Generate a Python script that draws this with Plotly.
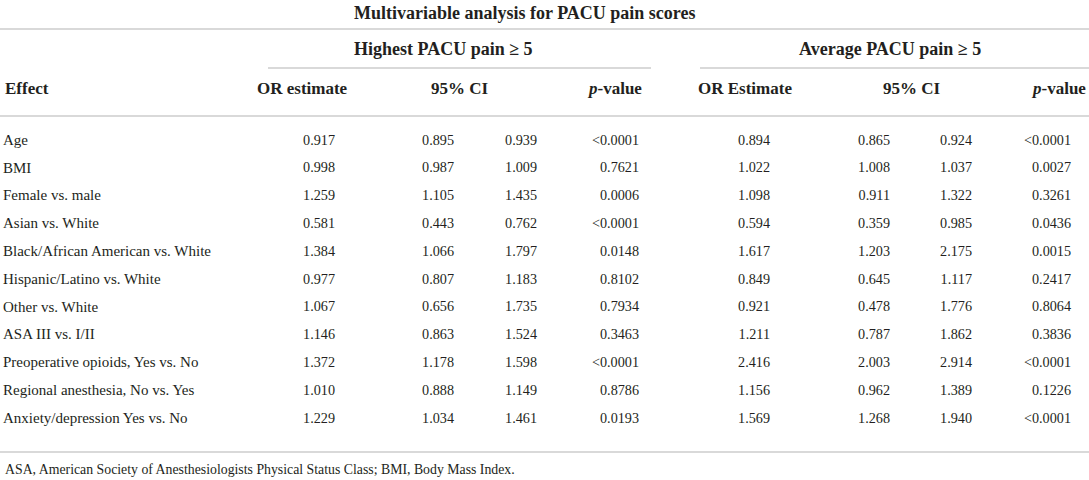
import plotly.graph_objects as go

# table content
effects = [
    "Age", "BMI", "Female vs. male", "Asian vs. White",
    "Black/African American vs. White", "Hispanic/Latino vs. White",
    "Other vs. White", "ASA III vs. I/II", "Preoperative opioids, Yes vs. No",
    "Regional anesthesia, No vs. Yes", "Anxiety/depression Yes vs. No",
]
hi_or = [0.917, 0.998, 1.259, 0.581, 1.384, 0.977, 1.067, 1.146, 1.372, 1.010, 1.229]
hi_lo = [0.895, 0.987, 1.105, 0.443, 1.066, 0.807, 0.656, 0.863, 1.178, 0.888, 1.034]
hi_up = [0.939, 1.009, 1.435, 0.762, 1.797, 1.183, 1.735, 1.524, 1.598, 1.149, 1.461]
hi_p = ["<0.0001", "0.7621", "0.0006", "<0.0001", "0.0148", "0.8102",
        "0.7934", "0.3463", "<0.0001", "0.8786", "0.0193"]
avg_or = [0.894, 1.022, 1.098, 0.594, 1.617, 0.849, 0.921, 1.211, 2.416, 1.156, 1.569]
avg_lo = [0.865, 1.008, 0.911, 0.359, 1.203, 0.645, 0.478, 0.787, 2.003, 0.962, 1.268]
avg_up = [0.924, 1.037, 1.322, 0.985, 2.175, 1.117, 1.776, 1.862, 2.914, 1.389, 1.940]
avg_p = ["<0.0001", "0.0027", "0.3261", "0.0436", "0.0015", "0.2417",
         "0.8064", "0.3836", "<0.0001", "0.1226", "<0.0001"]

title = "Multivariable analysis for PACU pain scores"
groups = ["Highest PACU pain ≥ 5", "Average PACU pain ≥ 5"]
col_heads = ["OR estimate", "95% CI", "<i>p</i>-value",
             "OR Estimate", "95% CI", "<i>p</i>-value"]
footnote = "ASA, American Society of Anesthesiologists Physical Status Class; BMI, Body Mass Index."

# layout (pixel units on both axes)
W, H = 1089, 480
TXT = "#231f20"
RULE = "#cccccc"
SERIF = "Liberation Serif"
row_y = [141 + 27.8 * i for i in range(len(effects))]
num_right = [335, 454, 537, 639, 770, 890, 972, 1071]
head_x = [302, 460, 614, 745, 912, 1058]
group_x = [443, 890]

fig = go.Figure()

fig.add_trace(go.Scatter(
    x=[3] * len(effects), y=row_y, text=effects, mode="text",
    textposition="middle right", textfont=dict(family=SERIF, size=15, color=TXT),
    hoverinfo="skip", cliponaxis=False,
))

columns = [
    [f"{v:.3f}" for v in hi_or], [f"{v:.3f}" for v in hi_lo],
    [f"{v:.3f}" for v in hi_up], hi_p,
    [f"{v:.3f}" for v in avg_or], [f"{v:.3f}" for v in avg_lo],
    [f"{v:.3f}" for v in avg_up], avg_p,
]
for xr, col in zip(num_right, columns):
    fig.add_trace(go.Scatter(
        x=[xr] * len(col), y=row_y, text=col, mode="text",
        textposition="middle left", textfont=dict(family=SERIF, size=14.2, color=TXT),
        hoverinfo="skip", cliponaxis=False,
    ))

ann = []
big = dict(family=SERIF, size=18, color=TXT)
head = dict(family=SERIF, size=17, color=TXT)
ann.append(dict(x=525, y=13, text=f"<b>{title}</b>", font=big))
for gx, g in zip(group_x, groups):
    ann.append(dict(x=gx, y=49, text=f"<b>{g}</b>", font=big))
ann.append(dict(x=3, y=88, text="<b>Effect</b>", font=head, xanchor="left"))
for hx, h in zip(head_x, col_heads):
    ann.append(dict(x=hx, y=88, text=f"<b>{h}</b>", font=head))
ann.append(dict(x=3, y=469, text=footnote, xanchor="left",
                font=dict(family=SERIF, size=13.8, color=TXT)))
for a in ann:
    a.setdefault("xanchor", "center")
    a.update(xref="x", yref="y", yanchor="middle", showarrow=False)

rules = [(0, W, 29), (268, 651, 68), (700, W, 68), (0, W, 116), (0, W, 452)]
shapes = [dict(type="line", xref="x", yref="y", x0=a, x1=b, y0=y, y1=y,
               line=dict(color=RULE, width=1.6)) for a, b, y in rules]

fig.update_layout(
    width=W, height=H, margin=dict(l=0, r=0, t=0, b=0),
    paper_bgcolor="white", plot_bgcolor="white", showlegend=False,
    annotations=ann, shapes=shapes,
    xaxis=dict(range=[0, W], visible=False, fixedrange=True),
    yaxis=dict(range=[H, 0], visible=False, fixedrange=True),
)

# drop the browser's default body margin so the table sits at the page corner
fig.write_html("out.html", config={"displayModeBar": False},
               post_script="document.body.style.margin='0';")
